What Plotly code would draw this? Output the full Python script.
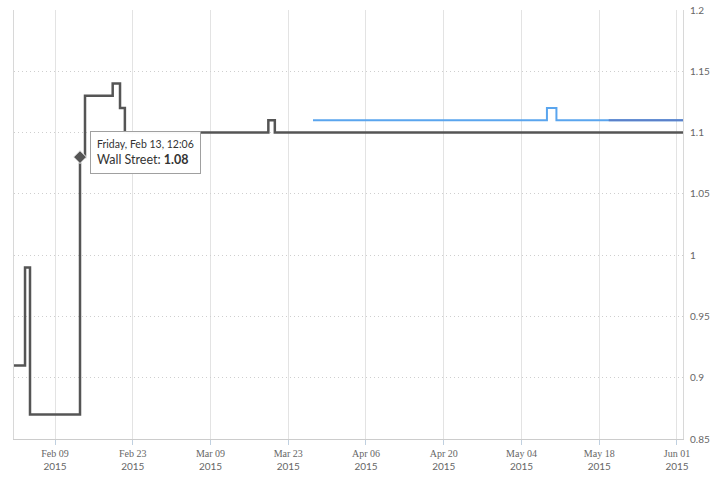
import plotly.graph_objects as go

# Wall Street (dark step line)
ws_dates = ["2015-02-01 12:00", "2015-02-03 14:30", "2015-02-04 12:00", "2015-02-13 12:06",
            "2015-02-14 09:40", "2015-02-19 09:20", "2015-02-20 17:00", "2015-02-21 14:00",
            "2015-03-19 10:00", "2015-03-20 14:00", "2015-06-02 02:00"]
ws_values = [0.91, 0.99, 0.87, 1.08, 1.13, 1.14, 1.12, 1.10, 1.11, 1.10, 1.10]

# Blue series
blue_dates = ["2015-03-27 11:00", "2015-05-08 14:00", "2015-05-10 07:00", "2015-06-02 02:00"]
blue_values = [1.11, 1.12, 1.11, 1.11]

# Darker blue series (overlapping at the end)
blue2_dates = ["2015-05-19 17:00", "2015-06-02 02:00"]
blue2_values = [1.11, 1.11]

# Hovered point
hover_date = ["2015-02-13 12:06"]
hover_value = [1.08]

x_ticks = ["2015-02-09", "2015-02-23", "2015-03-09", "2015-03-23", "2015-04-06",
           "2015-04-20", "2015-05-04", "2015-05-18", "2015-06-01"]
x_tick_labels = ["Feb 09", "Feb 23", "Mar 09", "Mar 23", "Apr 06", "Apr 20", "May 04", "May 18", "Jun 01"]
y_ticks = [0.85, 0.9, 0.95, 1.0, 1.05, 1.1, 1.15, 1.2]
y_tick_labels = ["0.85", "0.9", "0.95", "1", "1.05", "1.1", "1.15", "1.2"]

fig = go.Figure()
fig.add_trace(go.Scatter(x=blue_dates, y=blue_values, mode="lines", line_shape="hv",
                         line=dict(color="#5aa5ee", width=2), showlegend=False))
fig.add_trace(go.Scatter(x=blue2_dates, y=blue2_values, mode="lines", line_shape="hv",
                         line=dict(color="#5b80c8", width=2), showlegend=False))
fig.add_trace(go.Scatter(x=ws_dates, y=ws_values, mode="lines", line_shape="hv",
                         line=dict(color="#555555", width=2.5), showlegend=False))
fig.add_trace(go.Scatter(x=hover_date, y=hover_value, mode="markers",
                         marker=dict(symbol="diamond", size=10, color="#555555",
                                     line=dict(color="#ffffff", width=1)),
                         showlegend=False))

ticktext = [f"<span style='font-family:Liberation Serif'>{t}</span><br>2015" for t in x_tick_labels]

tooltip_text = ("<span style='font-size:10.5px'>Friday, Feb 13, 12:06</span><br>"
                "<span style='font-size:12.5px'>Wall Street: <b>1.08</b></span>")

fig.update_layout(
    width=721, height=478,
    margin=dict(l=14, r=38, t=10, b=39, autoexpand=False),
    plot_bgcolor="white", paper_bgcolor="white",
    font=dict(family="Lato, Open Sans, sans-serif", size=10, color="#666666"),
    xaxis=dict(range=["2015-02-01 14:50", "2015-06-02 02:00"], automargin=False,
               tickvals=x_ticks, ticktext=ticktext,
               showgrid=True, gridcolor="#e3e3e3", gridwidth=1,
               showline=True, linecolor="#cccccc", linewidth=1,
               ticks="outside", ticklen=5, tickcolor="#c0d0e0",
               tickfont=dict(size=10, color="#666666"), zeroline=False),
    yaxis=dict(range=[0.85, 1.2], side="right", tickvals=y_ticks, ticktext=y_tick_labels,
               automargin=False,
               showgrid=True, gridcolor="#cfcfcf", griddash="1px,3px", gridwidth=1,
               showline=True, mirror=True, linecolor="#d8d8d8", linewidth=1,
               ticks="", tickfont=dict(size=10, color="#666666"), zeroline=False,
               ticklabelstandoff=4),
    annotations=[
        dict(
            x=hover_date[0], y=hover_value[0], xref="x", yref="y",
            xanchor="left", yanchor="top", xshift=10, yshift=26,
            showarrow=False, align="left", text=tooltip_text,
            font=dict(family="Lato, Open Sans, sans-serif", color="#333333", size=12),
            bgcolor="rgba(255,255,255,0.97)", bordercolor="#a0a0a0", borderwidth=1, borderpad=6,
        ),
    ],
)

fig.write_html("out.html", config={"displayModeBar": False},
               post_script="document.body.style.margin='0';document.body.style.overflow='hidden';")
